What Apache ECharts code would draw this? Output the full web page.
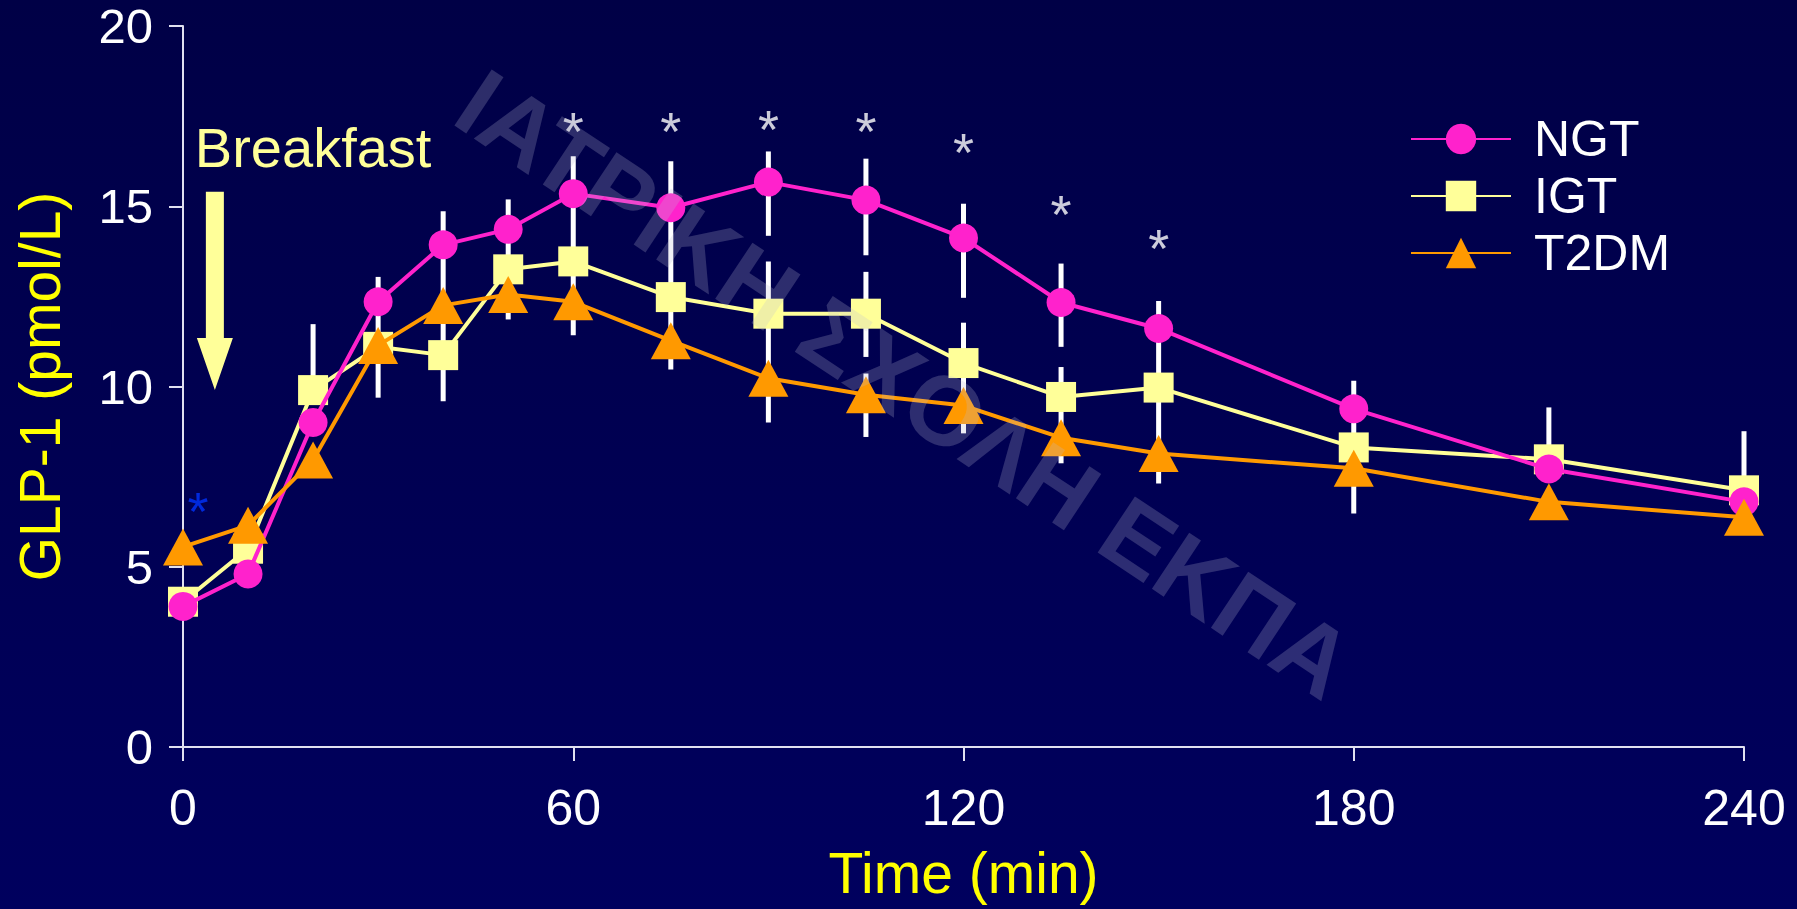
<!DOCTYPE html>
<html>
<head>
<meta charset="utf-8">
<script src="https://cdn.jsdelivr.net/npm/echarts@6/dist/echarts.min.js"></script>
<style>
html,body{margin:0;padding:0;background:#000050;}
#graph{width:1797px;height:909px;}
</style>
</head>
<body>
<div id="graph"></div>
<script>
// time points (min)
var times = [0, 10, 20, 30, 40, 50, 60, 75, 90, 105, 120, 135, 150, 180, 210, 240];
// GLP-1 means (pmol/L)
var ngt  = [3.9, 4.8, 9.0, 12.35, 13.93, 14.36, 15.35, 14.96, 15.67, 15.17, 14.12, 12.33, 11.61, 9.38, 7.71, 6.8];
var igt  = [4.03, 5.5, 9.9, 11.1, 10.87, 13.25, 13.47, 12.48, 12.02, 12.02, 10.65, 9.71, 9.97, 8.31, 7.98, 7.12];
var t2dm = [5.55, 6.15, 7.96, 11.14, 12.25, 12.55, 12.35, 11.27, 10.23, 9.77, 9.47, 8.58, 8.14, 7.73, 6.8, 6.37];
// visible white error bar pieces: [time, low, high]
var errBars = [
    [20, 9.9, 11.73], [30, 9.69, 13.04], [40, 9.59, 14.86], [50, 11.86, 15.19],
    [60, 11.42, 16.39], [75, 10.47, 16.25],
    [90, 14.18, 16.52], [90, 9.0, 13.47],
    [105, 13.64, 16.32], [105, 10.82, 13.18], [105, 8.6, 10.36],
    [120, 12.46, 15.07], [120, 8.7, 11.77],
    [135, 11.1, 13.41], [135, 7.87, 10.54],
    [150, 7.31, 12.37], [180, 6.48, 10.16], [210, 7.98, 9.42], [240, 7.12, 8.76]
];
// significance marks
var sigWhite = [[60, 17.43], [75, 17.43], [90, 17.47], [105, 17.43], [120, 16.83], [135, 15.12], [150, 14.18]];
var sigBlue = [[2.3, 6.88]];
// breakfast arrow: [time, top, tip]
var arrow = [[4.9, 15.4, 9.9]];
var xTicks = [0, 60, 120, 180, 240];
var yTicks = [0, 5, 10, 15, 20];

var FONT = '"Liberation Sans", Arial, sans-serif';

function pair(xs, ys) {
    return xs.map(function (x, i) { return [x, ys[i]]; });
}

var chart = echarts.init(document.getElementById('graph'), null, {renderer: 'svg'});

var option = {
    animation: false,
    backgroundColor: {
        type: 'linear', x: 0, y: 0, x2: 0, y2: 1,
        colorStops: [{offset: 0, color: '#000046'}, {offset: 1, color: '#00005e'}]
    },
    grid: {left: 183, right: 53, top: 26, bottom: 162},
    xAxis: {
        type: 'value',
        min: xTicks[0], max: xTicks[xTicks.length - 1], interval: 60,
        name: 'Time (min)', nameLocation: 'middle', nameGap: 97,
        nameTextStyle: {color: '#ffff00', fontSize: 57, fontFamily: FONT},
        axisLine: {lineStyle: {color: '#e0e0f0', width: 2}},
        axisTick: {show: true, length: 14, lineStyle: {color: '#e0e0f0', width: 2}},
        axisLabel: {color: '#ffffff', fontSize: 50, fontFamily: FONT, margin: 36},
        splitLine: {show: false}
    },
    yAxis: {
        type: 'value',
        min: yTicks[0], max: yTicks[yTicks.length - 1], interval: 5,
        name: 'GLP-1 (pmol/L)', nameLocation: 'middle', nameGap: 115,
        nameTextStyle: {color: '#ffff00', fontSize: 57, fontFamily: FONT},
        axisLine: {show: true, lineStyle: {color: '#e0e0f0', width: 2}},
        axisTick: {show: true, length: 14, lineStyle: {color: '#e0e0f0', width: 2}},
        axisLabel: {color: '#ffffff', fontSize: 49, lineHeight: 40, fontFamily: FONT,
            margin: 30, padding: [8, 0, 0, 0]},
        splitLine: {show: false}
    },
    legend: {
        orient: 'vertical', left: 1405, top: 109,
        itemWidth: 100, itemHeight: 38, itemGap: 7,
        data: ['NGT', 'IGT', 'T2DM'],
        textStyle: {color: '#ffffff', fontSize: 50, fontFamily: FONT, padding: [0, 0, 0, 18]}
    },
    graphic: [{
        type: 'text', x: 905, y: 384, rotation: -0.586, z: 100, silent: true,
        style: {
            text: 'ΙΑΤΡΙΚΗ ΣΧΟΛΗ ΕΚΠΑ',
            fill: 'rgba(190,190,215,0.24)',
            font: 'bold 98px ' + FONT,
            align: 'center', verticalAlign: 'middle'
        }
    }],
    series: [
        {
            type: 'custom', z: 1, silent: true,
            data: errBars,
            encode: {x: 0, y: [1, 2]},
            renderItem: function (params, api) {
                var p1 = api.coord([api.value(0), api.value(1)]);
                var p2 = api.coord([api.value(0), api.value(2)]);
                return {
                    type: 'line',
                    shape: {x1: p1[0], y1: p1[1], x2: p2[0], y2: p2[1]},
                    style: {stroke: '#ffffff', lineWidth: 5}
                };
            }
        },
        {
            name: 'IGT', type: 'line', z: 2,
            data: pair(times, igt),
            symbol: 'rect', symbolSize: 30,
            lineStyle: {color: '#ffff99', width: 4},
            itemStyle: {color: '#ffff99'}
        },
        {
            name: 'NGT', type: 'line', z: 3,
            data: pair(times, ngt),
            symbol: 'circle', symbolSize: 29,
            lineStyle: {color: '#ff22cc', width: 4},
            itemStyle: {color: '#ff22cc'}
        },
        {
            name: 'T2DM', type: 'line', z: 4,
            data: pair(times, t2dm),
            symbol: 'triangle', symbolSize: [40, 37],
            lineStyle: {color: '#ff9900', width: 4},
            itemStyle: {color: '#ff9900'}
        },
        {
            type: 'scatter', z: 5, silent: true,
            data: sigWhite, symbolSize: 1,
            itemStyle: {color: 'transparent'},
            label: {show: true, position: 'inside', formatter: '*', offset: [0, 12],
                color: '#ffffff', fontSize: 54, fontFamily: FONT}
        },
        {
            type: 'scatter', z: 5, silent: true,
            data: sigBlue, symbolSize: 1,
            itemStyle: {color: 'transparent'},
            label: {show: true, position: 'inside', formatter: '*', offset: [0, 12],
                color: '#0033ff', fontSize: 54, fontFamily: FONT}
        },
        {
            type: 'custom', z: 6, silent: true,
            data: arrow,
            encode: {x: 0, y: [1, 2]},
            renderItem: function (params, api) {
                var top = api.coord([api.value(0), api.value(1)]);
                var tip = api.coord([api.value(0), api.value(2)]);
                var cx = top[0], sw = 9, hw = 18, neck = tip[1] - 52;
                return {
                    type: 'group',
                    children: [{
                        type: 'polygon',
                        shape: {points: [[cx - sw, top[1]], [cx + sw, top[1]], [cx + sw, neck],
                            [cx + hw, neck], [cx, tip[1]], [cx - hw, neck], [cx - sw, neck]]},
                        style: {fill: '#ffff99'}
                    }, {
                        type: 'text',
                        style: {
                            text: 'Breakfast', x: cx - 20, y: top[1] - 16,
                            fill: '#ffff99', font: '56px ' + FONT,
                            align: 'left', verticalAlign: 'bottom',
                            textShadowColor: '#000000', textShadowOffsetX: 3, textShadowOffsetY: 3
                        }
                    }]
                };
            }
        }
    ]
};

chart.setOption(option);
</script>
</body>
</html>
